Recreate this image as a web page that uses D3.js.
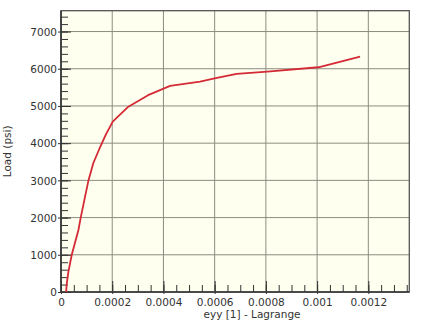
<!DOCTYPE html>
<html>
<head>
<meta charset="utf-8">
<script src="https://cdn.jsdelivr.net/npm/d3@7"></script>
<style>
  html, body { margin: 0; padding: 0; background: #ffffff; }
  svg { display: block; }
  text { font-family: "DejaVu Sans", Verdana, sans-serif; }
</style>
</head>
<body>
<svg id="chart" width="423" height="320"></svg>
<script>
// ---- data ----
const strain = [0.00002, 0.000022, 0.000029, 0.000042, 0.000068, 0.000077, 0.000107, 0.000126,
                0.000150, 0.000175, 0.000202, 0.000263, 0.000340, 0.000426, 0.000543,
                0.000604, 0.000686, 0.000806, 0.001005, 0.001168];
const load   = [0, 200, 546, 1000, 1667, 2000, 2992, 3460,
                3850, 4230, 4580, 4981, 5290, 5538, 5653,
                5745, 5860, 5922, 6040, 6325];
const xTicks = [0, 0.0002, 0.0004, 0.0006, 0.0008, 0.001, 0.0012];
const xTickLabels = ["0", "0.0002", "0.0004", "0.0006", "0.0008", "0.001", "0.0012"];
const yTicks = [0, 1000, 2000, 3000, 4000, 5000, 6000, 7000];
const yTickLabels = ["0", "1000", "2000", "3000", "4000", "5000", "6000", "7000"];
const xLabel = "eyy [1] - Lagrange";
const yLabel = "Load (psi)";
const xDomain = [0, 0.00136];
const yDomain = [0, 7560];

// ---- layout ----
const L = 61, R = 409.3, T = 10.7, B = 292;
const svg = d3.select("#chart");
const x = d3.scaleLinear().domain(xDomain).range([L, R]);
const y = d3.scaleLinear().domain(yDomain).range([B, T]);

// plot background
svg.append("rect").attr("x", L).attr("y", T).attr("width", R - L).attr("height", B - T)
  .attr("fill", "#fffff0");

// grid
const grid = svg.append("g").attr("stroke", "#8c8c80").attr("stroke-width", 1);
xTicks.slice(1).forEach(v => {
  grid.append("line").attr("x1", x(v)).attr("x2", x(v)).attr("y1", T).attr("y2", B);
});
yTicks.slice(1).forEach(v => {
  grid.append("line").attr("x1", L).attr("x2", R).attr("y1", y(v)).attr("y2", y(v));
});

// minor ticks
const xMinor = d3.range(0, 0.00136, 0.00005);
const yMinor = d3.range(0, 7560, 200);

svg.append("g").attr("transform", `translate(0,${B})`)
  .call(d3.axisBottom(x).tickValues(xMinor).tickSizeInner(-7).tickSizeOuter(0).tickFormat(""))
  .call(g => g.select(".domain").remove())
  .call(g => g.selectAll("line").attr("stroke", "#333"));
svg.append("g").attr("transform", `translate(${L},0)`)
  .call(d3.axisLeft(y).tickValues(yMinor).tickSizeInner(-7).tickSizeOuter(0).tickFormat(""))
  .call(g => g.select(".domain").remove())
  .call(g => g.selectAll("line").attr("stroke", "#333"));

// major axes
const xAxis = svg.append("g").attr("transform", `translate(0,${B})`)
  .call(d3.axisBottom(x).tickValues(xTicks).tickSizeInner(-11).tickSizeOuter(0).tickPadding(7)
    .tickFormat((d, i) => xTickLabels[i]));
xAxis.select(".domain").remove();
xAxis.selectAll("line").attr("stroke", "#333").attr("y1", 2).attr("y2", -11);
xAxis.selectAll("text").attr("fill", "#333").style("font-size", "10.5px");

const yAxis = svg.append("g").attr("transform", `translate(${L},0)`)
  .call(d3.axisLeft(y).tickValues(yTicks).tickSizeInner(-10).tickSizeOuter(0).tickPadding(4)
    .tickFormat((d, i) => yTickLabels[i]));
yAxis.select(".domain").remove();
yAxis.selectAll("line").attr("stroke", "#333").attr("x1", -3).attr("x2", 10);
yAxis.selectAll("text").attr("fill", "#333").style("font-size", "10.5px").attr("dy", "0.36em");

// frame
svg.append("rect").attr("x", L).attr("y", T).attr("width", R - L).attr("height", B - T)
  .attr("fill", "none").attr("stroke", "#555").attr("stroke-width", 1.3);
svg.append("line").attr("x1", L).attr("x2", L).attr("y1", T).attr("y2", B)
  .attr("stroke", "#333").attr("stroke-width", 1.6);
svg.append("line").attr("x1", L).attr("x2", R).attr("y1", B).attr("y2", B)
  .attr("stroke", "#333").attr("stroke-width", 1.6);

// curve
const pts = strain.map((s, i) => [s, load[i]]);
svg.append("path").datum(pts)
  .attr("fill", "none").attr("stroke", "#d42a35").attr("stroke-width", 1.8)
  .attr("stroke-linejoin", "round")
  .attr("d", d3.line().x(d => x(d[0])).y(d => y(d[1])));

// axis titles
svg.append("text").attr("x", 252).attr("y", 317.5).attr("text-anchor", "middle")
  .attr("fill", "#333").style("font-size", "10.5px").text(xLabel);
svg.append("text").attr("transform", `translate(11,${(T + B) / 2}) rotate(-90)`)
  .attr("text-anchor", "middle").attr("fill", "#333").style("font-size", "10.5px").text(yLabel);
</script>
</body>
</html>
